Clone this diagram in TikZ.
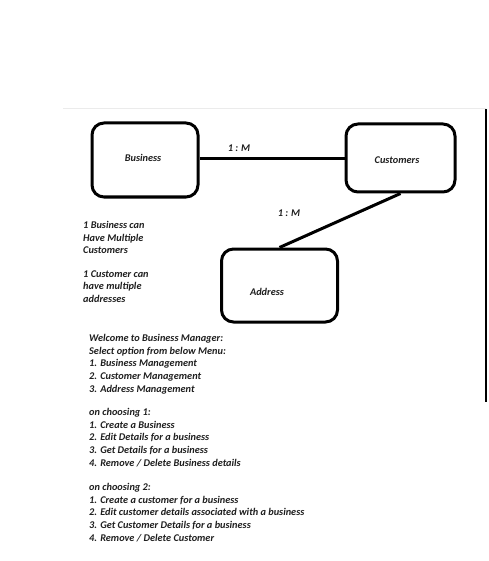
\documentclass[tikz,border=0pt]{standalone}
\usepackage{fontspec}
\setmainfont{Carlito}
\begin{document}
\begin{tikzpicture}[x=1pt,y=-1pt,
  entity/.style={draw=black,line width=3pt,rounded corners=12pt,fill=white},
  label/.style={font=\fontsize{10.3}{12.75}\selectfont\bfseries\itshape,text=black!88,inner sep=0pt},
  notes/.style={label,align=left,anchor=north west},
  link/.style={line width=3pt}]
\useasboundingbox[fill=white] (0,0) rectangle (488,561);
% page frame
\draw[black!8,line width=1pt] (63,109) -- (486,109);
\draw[black,line width=1.5pt] (486,109) -- (486,402);
% entities
\node[entity,minimum width=106pt,minimum height=74pt] (bus) at (145,160) {};
\node[entity,minimum width=109pt,minimum height=68pt] (cust) at (400.5,158) {};
\node[entity,minimum width=116pt,minimum height=73pt] (addr) at (279.5,285.5) {};
\node[label] at (143,158) {Business};
\node[label] at (397,160) {Customers};
\node[label] at (267,292) {Address};
% relationships
\draw[link] (bus.east |- 0,159) -- (cust.west |- 0,159);
\draw[link] (cust.south) -- (addr.north);
\node[label] (r1) at (239,148) {1 : M};
\node[label] (r2) at (289,213) {1 : M};
% notes
\node[notes] (n1) at (83,221) {1 Business can\\Have Multiple\\Customers\\[10.5pt]1 Customer can\\have multiple\\addresses};
\node[notes] (menu) at (89,334) {Welcome to Business Manager:\\Select option from below Menu:\\1. Business Management\\2. Customer Management\\3. Address Management\\[10.3pt]on choosing 1:\\1. Create a Business\\2. Edit Details for a business\\3. Get Details for a business\\4. Remove / Delete Business details\\[11.2pt]on choosing 2:\\1. Create a customer for a business\\2. Edit customer details associated with a business\\3. Get Customer Details for a business\\4. Remove / Delete Customer};
\end{tikzpicture}
\end{document}
